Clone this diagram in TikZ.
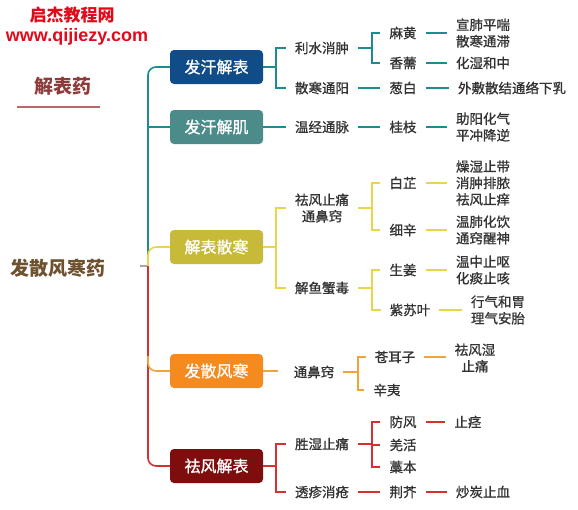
\documentclass[tikz,border=0pt]{standalone}
\usepackage{fontspec}
\setmainfont{Noto Sans CJK SC}
\newfontfamily\labfont[FakeBold=0.9]{Noto Sans CJK SC}
\newfontfamily\latinb{Liberation Sans}
\definecolor{navybox}{HTML}{104C87}
\definecolor{tealbox}{HTML}{4B8C8A}
\definecolor{olivebox}{HTML}{C6BA38}
\definecolor{orangebox}{HTML}{F58A1F}
\definecolor{redbox}{HTML}{7E0D0D}
\definecolor{tealln}{HTML}{1E8C8C}
\definecolor{yelln}{HTML}{E9D54A}
\definecolor{orgln}{HTML}{F2A23A}
\definecolor{redln}{HTML}{D73030}
\definecolor{roottxt}{HTML}{6E5230}
\definecolor{sectxt}{HTML}{8E3B3B}
\definecolor{secline}{HTML}{B46A6A}
\definecolor{titlered}{HTML}{E00A1A}
\definecolor{labtxt}{HTML}{333333}
\begin{document}
\begin{tikzpicture}[x=1pt,y=-1pt,
  box/.style={rounded corners=4pt, minimum width=93pt, minimum height=34pt, text=white, font=\labfont\fontsize{16}{18}\selectfont, inner sep=0pt},
  lab/.style={font=\labfont\fontsize{13.5}{16.5}\selectfont, text=labtxt, inner xsep=9pt, inner ysep=1pt, align=center},
  ln/.style={line width=1.6pt},
  c1/.style={ln, draw=tealln},
  c3/.style={ln, draw=yelln},
  c4/.style={ln, draw=orgln},
  c5/.style={ln, draw=redln}]
\useasboundingbox[fill=white] (0,0) rectangle (578,509);

% titles
\node[font=\fontsize{17}{18}\selectfont\bfseries, text=titlered] (t1) at (72,15) {启杰教程网};
\node[font=\latinb\fontsize{18}{20}\selectfont\bfseries, text=titlered] (t2) at (77,37) {www.qijiezy.com};
\node[font=\fontsize{19}{20}\selectfont\bfseries, text=sectxt] (sec) at (63,86) {解表药};
\draw[line width=2pt, secline] (17,107) -- (100,107);
\node[font=\fontsize{19}{20}\selectfont\bfseries, text=roottxt] (root) at (58,268) {发散风寒药};

% boxes
\node[box, fill=navybox] (b1) at (216.5,67) {发汗解表};
\node[box, fill=tealbox] (b2) at (216.5,127) {发汗解肌};
\node[box, fill=olivebox] (b3) at (216.5,247) {解表散寒};
\node[box, fill=orangebox] (b4) at (216.5,371) {发散风寒};
\node[box, fill=redbox] (b5) at (216.5,466) {祛风解表};

% trunk
\coordinate (g0) at (140,266);
\coordinate (tr) at (148,266);
\coordinate (tt) at (148,258);
\coordinate (to4) at (148,356);
\draw[ln, draw=gray!70] (g0) -- (tr);
\draw[c1, rounded corners=8pt] (b1.west) -| (tt);
\draw[c1] (b2.west) -- (b2.west -| tt);
\draw[c3, rounded corners=8pt] (tr) |- (b3.west);
\draw[c5, rounded corners=8pt] (tr) |- (b5.west);
\draw[c4, rounded corners=8pt] (to4) |- (b4.west);

% branch 1
\node[lab] (l11) at (322,48) {利水消肿};
\node[lab] (l12) at (322,88) {散寒通阳};
\node[lab] (m11) at (403,33) {麻黄};
\node[lab] (m12) at (403,63) {香薷};
\node[lab] (m13) at (403,88) {葱白};
\node[lab] (e11) at (483,33) {宣肺平喘\\散寒通滞};
\node[lab] (e12) at (483,63) {化湿和中};
\node[lab] (e13) at (512,88) {外敷散结通络下乳};
\coordinate (k1) at (276,67);
\coordinate (k11) at (372,48);
\draw[c1] (b1.east) -- (k1);
\draw[c1] (l11.west) -| (k1) |- (l12.west);
\draw[c1] (l11.east) -- (k11);
\draw[c1] (m11.west) -| (k11) |- (m12.west);
\draw[c1] (m11.east) -- (m11.east -| e11.west);
\draw[c1] (m12.east) -- (m12.east -| e12.west);
\draw[c1] (l12.east) -- (m13.west);
\draw[c1] (m13.east) -- (e13.west);

% branch 2
\node[lab] (l21) at (322,127) {温经通脉};
\node[lab] (m21) at (403,127) {桂枝};
\node[lab] (e21) at (483,127) {助阳化气\\平冲降逆};
\draw[c1] (b2.east) -- (l21.west);
\draw[c1] (l21.east) -- (m21.west);
\draw[c1] (m21.east) -- (m21.east -| e21.west);

% branch 3
\node[lab] (l31) at (322,208) {祛风止痛\\通鼻窍};
\node[lab] (l32) at (322,288) {解鱼蟹毒};
\node[lab] (m31) at (403,183) {白芷};
\node[lab] (m32) at (403,230) {细辛};
\node[lab] (m33) at (403,270) {生姜};
\node[lab] (m34) at (410,310) {紫苏叶};
\node[lab] (e31) at (483,183) {燥湿止带\\消肿排脓\\祛风止痒};
\node[lab] (e32) at (483,230) {温肺化饮\\通窍醒神};
\node[lab] (e33) at (483,270) {温中止呕\\化痰止咳};
\node[lab] (e34) at (498,310) {行气和胃\\理气安胎};
\coordinate (k3) at (276,247);
\coordinate (k31) at (372,208);
\coordinate (k32) at (372,288);
\draw[c3] (b3.east) -- (k3);
\draw[c3] (l31.west) -| (k3) |- (l32.west);
\draw[c3] (l31.east) -- (k31);
\draw[c3] (m31.west) -| (k31) |- (m32.west);
\draw[c3] (l32.east) -- (k32);
\draw[c3] (m33.west) -| (k32) |- (m34.west);
\draw[c3] (m31.east) -- (m31.east -| e31.west);
\draw[c3] (m32.east) -- (m32.east -| e32.west);
\draw[c3] (m33.east) -- (m33.east -| e33.west);
\draw[c3] (m34.east) -- (m34.east -| e34.west);

% branch 4
\node[lab] (l41) at (314,372) {通鼻窍};
\node[lab] (m41) at (395,357) {苍耳子};
\node[lab] (m42) at (387,390) {辛夷};
\node[lab] (e41) at (475,358) {祛风湿\\止痛};
\coordinate (k41) at (358,372);
\draw[c4, shorten >=7pt] (b4.east) -- (b4.east -| l41.west);
\draw[c4] (l41.east) -- (k41);
\draw[c4] (m41.west) -| (k41) |- (m42.west);
\draw[c4] (m41.east) -- (m41.east -| e41.west);

% branch 5
\node[lab] (l51) at (322,444) {胜湿止痛};
\node[lab] (l52) at (322,492) {透疹消疮};
\node[lab] (m51) at (403,422) {防风};
\node[lab] (m52) at (403,445) {羌活};
\node[lab] (m53) at (403,467) {藁本};
\node[lab] (m54) at (403,492) {荆芥};
\node[lab] (e51) at (468,422) {止痉};
\node[lab] (e54) at (483,492) {炒炭止血};
\coordinate (k5) at (276,466);
\coordinate (k51) at (372,444);
\draw[c5] (b5.east) -- (k5);
\draw[c5] (l51.west) -| (k5) |- (l52.west);
\draw[c5] (l51.east) -- (k51);
\draw[c5] (m51.west) -| (k51) |- (m53.west);
\draw[c5] (m52.west) -- (m52.west -| k51);
\draw[c5] (m51.east) -- (e51.west);
\draw[c5] (l52.east) -- (m54.west);
\draw[c5] (m54.east) -- (e54.west);
\end{tikzpicture}
\end{document}
